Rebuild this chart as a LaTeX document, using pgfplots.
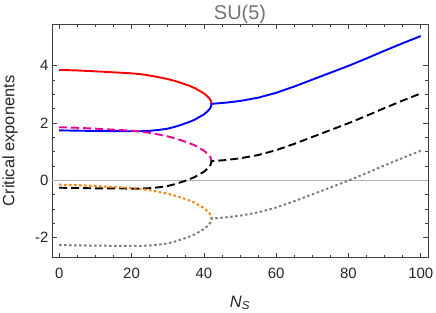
\documentclass[border=0pt]{standalone}
\usepackage{fontspec}
\setmainfont{Liberation Sans}
\usepackage{pgfplots}
\usepackage{pgfplotstable}
\pgfplotsset{compat=1.18}

% branches that end at the bifurcation point
\pgfplotstableread{
x      r      m      o
0      3.85   1.85   -0.15
5      3.83   1.83   -0.17
10     3.80   1.80   -0.20
15     3.765  1.765  -0.235
20     3.73   1.73   -0.27
22.5   3.70   1.70   -0.30
25     3.655  1.655  -0.345
27.5   3.595  1.595  -0.405
30     3.53   1.53   -0.47
32     3.465  1.465  -0.535
34     3.385  1.385  -0.615
36     3.295  1.295  -0.705
37.5   3.215  1.215  -0.785
39     3.105  1.105  -0.895
40     3.035  1.035  -0.965
41     2.925  0.925  -1.075
41.5   2.86   0.86   -1.14
41.8   2.805  0.805  -1.195
42.0   2.745  0.745  -1.255
42.1   2.665  0.665  -1.335
}\uppertab

% branches that continue past the bifurcation point
\pgfplotstableread{
x      b      k      g
0      1.74   -0.26  -2.26
5      1.73   -0.27  -2.27
10     1.72   -0.28  -2.28
15     1.715  -0.285 -2.285
20     1.71   -0.29  -2.29
22.5   1.71   -0.29  -2.29
25     1.725  -0.275 -2.275
27.5   1.755  -0.245 -2.245
30     1.80   -0.20  -2.20
32     1.865  -0.135 -2.135
34     1.945  -0.055 -2.055
36     2.035  0.035  -1.965
37.5   2.115  0.115  -1.885
39     2.225  0.225  -1.775
40     2.295  0.295  -1.705
41     2.405  0.405  -1.595
41.5   2.47   0.47   -1.53
41.8   2.525  0.525  -1.475
42.0   2.585  0.585  -1.415
42.1   2.665  0.665  -1.335
43     2.675  0.675  -1.325
44     2.685  0.685  -1.315
45.5   2.70   0.70   -1.30
47     2.72   0.72   -1.28
50     2.765  0.765  -1.235
55     2.88   0.88   -1.12
60     3.05   1.05   -0.95
65     3.27   1.27   -0.73
70     3.51   1.51   -0.49
75     3.75   1.75   -0.25
80     3.99   1.99   -0.01
85     4.25   2.25   0.25
90     4.52   2.52   0.52
95     4.78   2.78   0.78
100    5.03   3.03   1.03
}\lowertab

\definecolor{mmaorange}{rgb}{1,0.5,0}
\definecolor{mmagray}{rgb}{0.5,0.5,0.5}
\definecolor{framegray}{rgb}{0.25,0.25,0.25}

\begin{document}
\begin{tikzpicture}
\begin{axis}[
  name=ax,
  scale only axis,
  width=376bp, height=233.4bp,
  xmin=-2, xmax=102, ymin=-2.7, ymax=5.44,
  xtick={0,20,40,60,80,100},
  ytick={-2,0,2,4},
  minor x tick num=3,
  minor y tick num=3,
  xtick pos=both, ytick pos=both,
  xticklabel pos=lower, yticklabel pos=left,
  tick align=inside,
  major tick length=5bp,
  minor tick length=3bp,
  axis line style={framegray, line width=0.8bp},
  every tick/.style={framegray, line width=0.6bp},
  /pgf/number format/assume math mode=true,
  tick label style={font=\fontsize{15}{18}\selectfont, text=black!85},
  xticklabel style={anchor=base, yshift=-20.6bp},
  title={SU(5)},
  title style={at={(0.5,1)}, anchor=base, yshift=-1bp, font=\fontsize{20}{24}\selectfont, text=black!55},
  ylabel={Critical exponents},
  ylabel style={at={(axis description cs:-0.1117,0.5)}, anchor=center, font=\fontsize{16.5}{19}\selectfont, text=black!85},
  xlabel={\textit{N}\textsubscript{\textit{S}}},
  xlabel style={at={(axis description cs:0.5,0)}, anchor=base, yshift=-49.5bp, font=\fontsize{16.5}{19}\selectfont, text=black!85},
]
\addplot[black!30, line width=0.6bp, forget plot] coordinates {(-2,0) (102,0)};
\addplot[red, line width=1.9bp] table[x=x, y=r] {\uppertab};
\addplot[blue, line width=1.9bp] table[x=x, y=b] {\lowertab};
\addplot[magenta, line width=1.9bp, dash pattern=on 8bp off 4bp] table[x=x, y=m] {\uppertab};
\addplot[black, line width=1.9bp, dash pattern=on 8bp off 4bp] table[x=x, y=k] {\lowertab};
\addplot[mmaorange, line width=2bp, dash pattern=on 2.5bp off 2.5bp] table[x=x, y=o] {\uppertab};
\addplot[mmagray, line width=2bp, dash pattern=on 2.5bp off 2.5bp] table[x=x, y=g] {\lowertab};
\end{axis}
\pgfresetboundingbox
\path[use as bounding box] (ax.south west) ++(-52bp,-55.3bp) rectangle ++(436bp,313bp);
\end{tikzpicture}
\end{document}
